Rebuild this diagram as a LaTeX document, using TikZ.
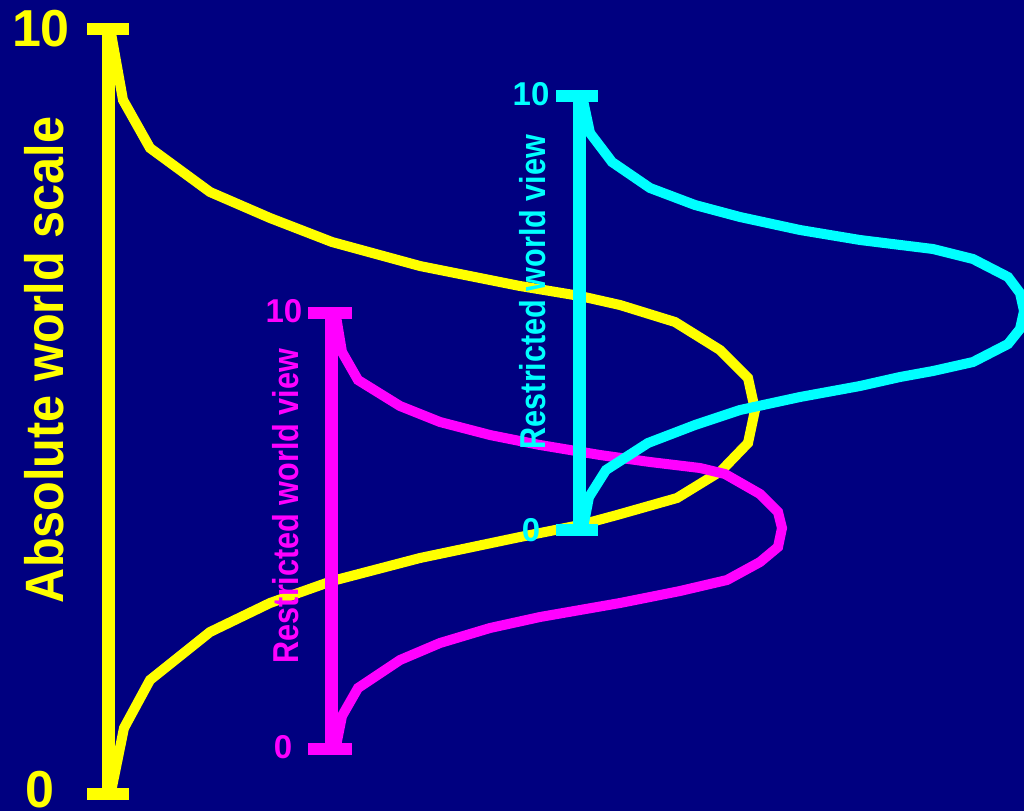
\documentclass[tikz,border=0pt]{standalone}
\usepackage{fontspec}
\usepackage{graphicx}
\setmainfont{Liberation Sans}
\definecolor{navybg}{RGB}{0,0,128}
\definecolor{yel}{RGB}{255,255,0}
\definecolor{mag}{RGB}{255,0,255}
\definecolor{cya}{RGB}{0,255,255}
\tikzset{
  curve/.style={line width=10pt, line join=miter, miter limit=4},
  axisbar/.style={line width=13pt},
  capbar/.style={line width=12pt},
  bigtxt/.style={font=\bfseries\fontsize{52}{52}\selectfont, inner sep=0pt},
  smalltxt/.style={font=\bfseries\fontsize{33}{33}\selectfont, inner sep=0pt},
  biglabel/.style={font=\bfseries\fontsize{54}{54}\selectfont, inner sep=0pt, rotate=90},
  smalllabel/.style={font=\bfseries\fontsize{36}{36}\selectfont, inner sep=0pt, rotate=90}
}
\begin{document}
\begin{tikzpicture}[x=1pt,y=-1pt]
\fill[navybg] (0,0) rectangle (1024,811);
\useasboundingbox (0,0) rectangle (1024,811);

% yellow distribution
\draw[curve, yel] (111,33) -- (123,100) -- (150,148) -- (210,192) -- (270,218) -- (332,242)
  -- (420,266) -- (520,286) -- (580,296) -- (620,305) -- (675,322) -- (720,350)
  -- (748,378) -- (755,410) -- (748,443) -- (721,471) -- (677,498) -- (617,515)
  -- (580,525) -- (520,537) -- (420,558) -- (332,581) -- (270,603) -- (210,632)
  -- (150,680) -- (124,728) -- (111,792);
% yellow axis
\coordinate (ytop) at (108,29);
\coordinate (ybot) at (108,794);
\coordinate (ytl) at (87,29);  \coordinate (ytr) at (129,29);
\coordinate (ybl) at (87,794); \coordinate (ybr) at (129,794);
\draw[axisbar, yel] (ytop) -- (ybot);
\draw[capbar, yel] (ytl) -- (ytr);
\draw[capbar, yel] (ybl) -- (ybr);

% magenta distribution
\draw[curve, mag] (336,316) -- (342,352) -- (358,380) -- (400,406) -- (440,422) -- (490,435)
  -- (540,445) -- (600,455) -- (650,462) -- (700,468) -- (725,474) -- (760,494)
  -- (778,512) -- (782,528) -- (778,547) -- (760,562) -- (727,580) -- (680,591)
  -- (620,603) -- (540,617) -- (490,628) -- (440,643) -- (400,660) -- (358,688)
  -- (342,716) -- (336,746);
% magenta axis
\coordinate (mtop) at (331,313);
\coordinate (mbot) at (331,749);
\coordinate (mtl) at (308,313); \coordinate (mtr) at (352,313);
\coordinate (mbl) at (308,749); \coordinate (mbr) at (352,749);
\draw[axisbar, mag] (mtop) -- (mbot);
\draw[capbar, mag] (mtl) -- (mtr);
\draw[capbar, mag] (mbl) -- (mbr);

% cyan distribution
\draw[curve, cya] (583,100) -- (590,133) -- (612,162) -- (650,188) -- (695,205) -- (740,217)
  -- (800,230) -- (860,240) -- (933,249) -- (973,259) -- (1008,277) -- (1020,293)
  -- (1024,311) -- (1020,329) -- (1008,344) -- (973,362) -- (933,371) -- (900,377)
  -- (860,386) -- (800,397) -- (740,410) -- (695,425) -- (648,443) -- (606,470)
  -- (589,497) -- (583,528);
% cyan axis
\coordinate (ctop) at (579,96);
\coordinate (cbot) at (579,530);
\coordinate (ctl) at (556,96); \coordinate (ctr) at (598,96);
\coordinate (cbl) at (556,530); \coordinate (cbr) at (598,530);
\draw[axisbar, cya] (ctop) -- (cbot);
\draw[capbar, cya] (ctl) -- (ctr);
\draw[capbar, cya] (cbl) -- (cbr);

% labels
\node[bigtxt, text=yel] (y10) at (41,29) {10};
\node[bigtxt, text=yel] (y0) at (40,790) {0};
\node[biglabel, text=yel] (ylab) at (44,360) {\scalebox{0.9}[1]{Absolute world scale}};

\node[smalltxt, text=mag] (m10) at (284,311) {10};
\node[smalltxt, text=mag] (m0) at (283,747) {0};
\node[smalllabel, text=mag] (mlab) at (286,506) {\scalebox{0.85}[1]{Restricted world view}};

\node[smalltxt, text=cya] (c10) at (531,94) {10};
\node[smalltxt, text=cya] (c0) at (531,530) {0};
\node[smalllabel, text=cya] (clab) at (533,292) {\scalebox{0.85}[1]{Restricted world view}};
\end{tikzpicture}
\end{document}
